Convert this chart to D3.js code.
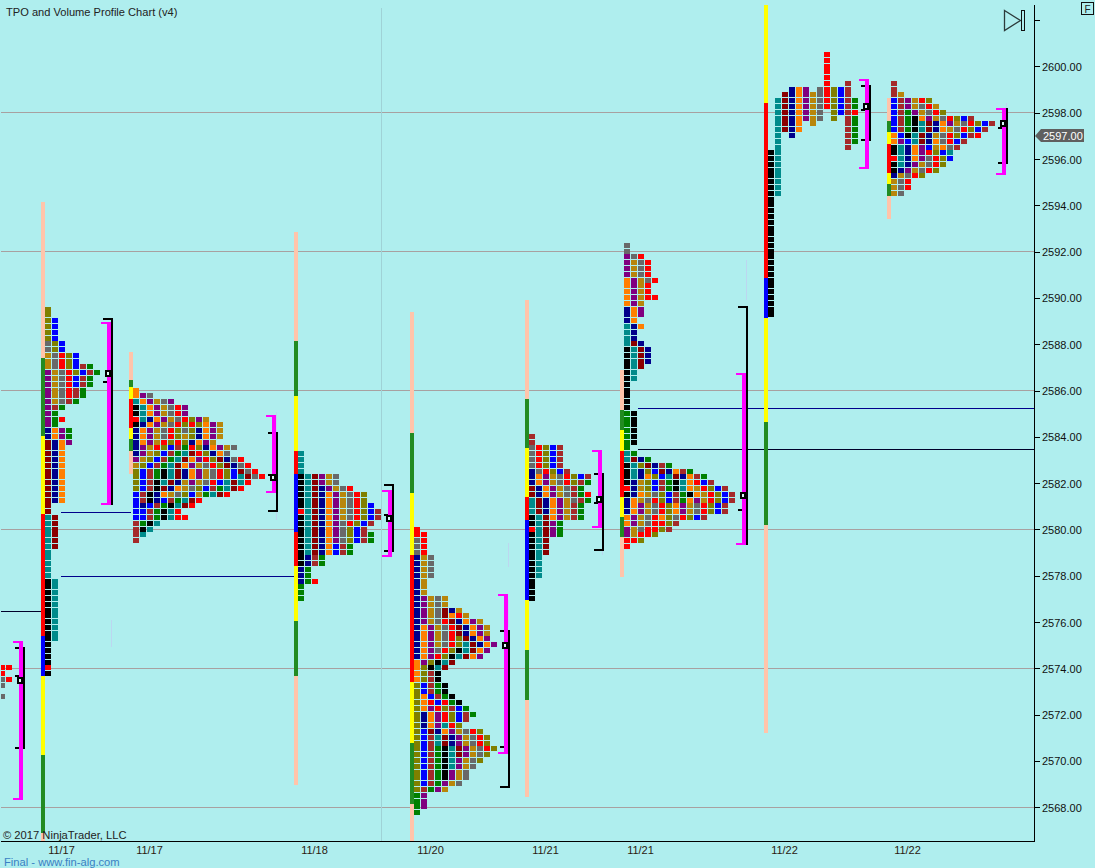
<!DOCTYPE html>
<html><head><meta charset="utf-8">
<script src="https://cdn.jsdelivr.net/npm/d3@7"></script>
<style>html,body{margin:0;padding:0;background:#afeeee;overflow:hidden}svg{display:block}text{font-family:"Liberation Sans",Arial,sans-serif}</style>
</head><body><div id="c"></div>
<script>
const priceTicks=[2568,2570,2572,2574,2576,2578,2580,2582,2584,2586,2588,2590,2592,2594,2596,2598,2600,2602];
const gridPrices=[2598,2592,2586,2580,2574,2568];
const dateLabels=["11/17","11/17","11/18","11/20","11/21","11/21","11/22","11/22"];
const lastPrice=2597;

const tpo0=["RR","R.","GR","G.","..","G."];
const tpo1=["O","O","OB","OB","OB","OB","GOB","GOB","DGROB","DGROB","DGROBWE","PDGROBWE","PDGRBWE","PDGRBWE","PDGRWE","PDGRWE","PDGWE","PWE","PE","PER","PE","NAPE","NAPE","MNAP","MNA","MNA","MNA","MNA","MNA","MNA","MNA","MNA","MNA","MNA","M","M","TM","TM","TM","TM","TM","TM","T","T","T","T","T","KT","KT","KT","KT","KT","KT","KT","KT","KT","KT","KT","K","K","K","K","R","K"];
const tpo2=["A","APG","TAPDGP","KTAPDGRP","KTAPDGRP","RTNAPDGROPD","KNAPDGROROAPD","NAPDGROGONAPD","NAPDGRODONAPD","NAPDRORONAPD","NPDROBWERONAPDG","NPDOBWETMRONAG","PDOBWETMAPROMNGR","DOBWETMAPDGROMNGR","OBWEKTMNAPDGROBMGR","OBWEKTMNAPDGROBTMGR","OBWKTMNDPDGRBTMTR","OBWKMNADGOBWETMR","BWKNADGOBDETMR","BWKNBWETMR","BNBWEKTMR","BBWEKTR","BBWEKTRR","WEKT","WKT","WT","W"];
const tpo3=["T","T","T","T","KTMPDG","KTMPDG","KTMNPDGR","KTMNAPDGRO","KTMNAPDGRO","KTMNAPDGROB","RTMNAPDGROBW","KTMNAPDGROBW","KTMNAPGROBW","KTMNAPGOBW","KTMNAPGOBWE","KTMNAPGOBWE","KTMNABWE","KTMNABWE","KNWE","KNWE","NE","NE","NER","E","E","E"];
const tpo4=["R","RR","GR","GR","GR","NDG","NDG","NDG","NDG","ND","ND","ND","NPDGD","NPDGD","NPDGMND","NPDGMARD","NPDGRMNAPD","NAPDGRMNAPD","NAPDGRMNAPD","NAPDGROMNAP","NAPDGROTMNAP","NAPGROKTMAP","NAPROKTMAP","APOKTM","AOKTM","AOWK","AOWK","OBWEK","OBWEK","OABWEK","OARBREK","OAPROWBE","ONAPROBWE","ONAPROBW","ONAPTRO","OBMNAPDGRO","OBWTMNPDGRO","OBWTMNPDGRO","OBWEKTMPDGRO","OBWEKTMPDGO","OBWEKTPDGO","OBWEKTPDG","OBWEKPDG","OBWEKPDG","OBWEPDG","OWEPD","EP","EP","EP","E"];
const tpo5=["W","W","GROBW","GROBW","GROBW","GROBW","NGROBW","NAPDGROBW","NAPDGROWE","MNAPDGWE","MNAPDGWER","TMNAPDGWE","TMNAPDWE","TMNAPDWE","KTMAPDWE","KTMPE","RTMPE","KTMPE","KTM","KTM","KTM","KT","KT","KT","KT","K","K","K","K"];
const tpo6=["G","G","PGR","PDGR","PDGR","PDGR","APDGR","APDR","APDR","APDRR","APD","NAP","NAP","NA","TNA","TN","TN","TMN","KTMN","KTMN","KTMN","KTM","KT","KT","K","K","K","K","K","EK","EK","EK","EK","EK","EK","E","TE","TMNE","KTOMNWE","KTNOBMNAWE","KTNAOBTMNAWE","KNDOBWEKTARBW","RNDOBWEKTADROBW","KNADGOBWEKADROBW","NADGROBWEAPDROBW","NAPDGROAPDGROBW","NAPDGROAPDGROBW","APDGRAOGROBW","APDGRROW","PDGRROW","PDRRO","RRO","R"];
const tpo7=["........R","........R","........R","........R","........R","........R..W","...NAP.GROBW","..MNAPDGROBW",".TMNAPDGROBWE",".TMNAPDGROBWE",".TMNAPDG.OBWR",".TMNAPDG.O.WE",".TMNA.D....WE",".TMNA......WE",".T.N.......WE",".T.........WE",".T.........W","KT","KT","KT","KT","KT","KT","KT","KT","K","K","K","K","K","K","K","K","K","K","K","K","K","K","K","K","K","K","K","K","K"];
const tpo8=["W","W","WD","BWPDRO","BWPDGRD","BWEPDGRO","BWEKAPDGROBW","BWEKTMNAPDGROBW","BWEKTMNADGROBW","ABKTMNDGROBWR","APBTMNAGRBW","KTNAPBDAGW","KTNAPROBT","RTNAPGROB","KTNPDGRO","KNPDGRO","NDGRO","DGR","DGR","DG"];

const profileTops=[2574,2589.5,2586,2583.25,2580,2584,2592.25,2600.5,2599.25];
const profileSlots=[0,6.571,19.143,42.714,59.286,75.714,89.286,109.857,127.429];
const profileRows=[tpo0,tpo1,tpo2,tpo3,tpo4,tpo5,tpo6,tpo7,tpo8];

const edges1=[2594.14,2587.40,2584.03,2580.67,2575.40,2573.67,2570.26,2566.9,2566.3];
const edges2=[2587.66,2586.45,2586.15,2585.63,2584.38,2583.90,2583.39,2582.39];
const edges3=[2592.85,2588.14,2585.76,2583.39,2582.39,2579.89,2578.42,2576.04,2573.67,2568.96];
const edges4=[2589.39,2584.16,2581.57,2578.89,2573.41,2570.77,2568.14,2566.3];
const edges5=[2589.91,2585.63,2583.52,2581.40,2580.41,2576.95,2574.79,2572.63,2568.44];
const edges6=[2586.89,2585.16,2584.29,2583.39,2581.40,2580.54,2579.67,2577.94];
const edges7=[2602.65,2598.42,2590.86,2589.13,2584.64,2580.19,2571.21];
const edges8=[2598.63,2597.64,2597.17,2596.65,2595.40,2594.92,2594.40,2593.41];
const phases1="cgyrbygc",phases2="cgyrygc",phases3="cgyrbrygc",phases4="cgyrygc",phases5="cgyrbygc",phases6="cgyrygc",phases7="yrbygc",phases8="cgyrygc";
const barSlots=profileSlots.slice(1);
const barEdges=[edges1,edges2,edges3,edges4,edges5,edges6,edges7,edges8];
const barPhases=[phases1,phases2,phases3,phases4,phases5,phases6,phases7,phases8];

const bracketSlots=[3.43,16,39.57,56.14,72.71,86.14,106.71,124.29,143.86];
const vahMag=[2575.14,2588.92,2584.90,2581.66,2577.17,2583.39,2586.71,2599.41,2598.16];
const valMag=[2568.40,2581.14,2581.66,2578.89,2570.38,2580.15,2579.41,2595.65,2595.40];
const vahBlk=[2574.92,2589.13,2584.21,2581.96,2575.65,2582.44,2589.65,2599.2,2598.2];
const valBlk=[2570.60,2581.10,2580.84,2579.11,2568.92,2579.15,2579.37,2596.86,2595.87];
const pocs=[2573.5,2586.75,2582.25,2580.5,2575,2581.3,2581.5,2598.3,2597.54];
const extraTicks=[[2574.92,2570.6,2573.71],[2589.13,2586.41],[2584.21,2580.84,2582.39],[2581.96,2579.11,2580.67],[2575.65,2570.64,2568.92],[2582.44,2579.15,2581.18],[2589.65,2580.88],[2599.2,2598.16,2596.86],[2597.38,2595.87]];

const levelPrices=[2580.74,2577.97,2576.46,2585.23,2583.46];
const levelFrom=[8.857,8.857,0.29,91.29,91.29];
const levelTo=[18.857,42.57,6.43,147.86,147.86];
const levelDark=[0,0,1,0,1];

const faintSlots=[39.57,16,72.71,72.71,86.14,106.71,143.86];
const faintHi=[2585.07,2576.09,2579.41,2576.95,2579.15,2591.64,2598.42];
const faintLo=[2580.41,2574.92,2578.38,2575.78,2578.89,2589.91,2595.65];
const sessionBreakSlot=54.57;

const tpoColor={O:"#808000",B:"#0000ff",G:"#696969",D:"#b8860b",R:"#ff0000",N:"#00008b",P:"#800080",W:"#a52a2a",E:"#008000",K:"#000000",T:"#008b8b",M:"#8b0000",A:"#ff7f00"};
const phaseColor={c:"#ffc4aa",g:"#228b22",y:"#ffff00",r:"#ff0000",b:"#0000ff"};

const W=1095,H=868,plotR=1034,plotB=841;
const y=d3.scaleLinear().domain([2598,2568]).range([112.7,807.2]);
const x=d3.scaleLinear().domain([0,1]).rangeRound([-1,6]);
const svg=d3.select("#c").append("svg").attr("width",W).attr("height",H).attr("shape-rendering","crispEdges");
svg.append("rect").attr("width",W).attr("height",H).attr("fill","#afeeee");
svg.append("clipPath").attr("id","pc").append("rect").attr("x",1).attr("y",0).attr("width",plotR-1).attr("height",plotB);
const g=svg.append("g").attr("clip-path","url(#pc)");

g.selectAll(null).data(gridPrices).join("line").attr("x1",1).attr("x2",plotR)
 .attr("y1",d=>Math.floor(y(d))+.5).attr("y2",d=>Math.floor(y(d))+.5).attr("stroke","#a8a0a0");
g.append("line").attr("x1",x(sessionBreakSlot)+.5).attr("x2",x(sessionBreakSlot)+.5).attr("y1",8).attr("y2",plotB).attr("stroke","#9fd2d6");

g.selectAll(null).data(faintSlots).join("rect").attr("x",d=>x(d)).attr("width",1)
 .attr("y",(d,i)=>y(faintHi[i])).attr("height",(d,i)=>y(faintLo[i])-y(faintHi[i])).attr("fill","#bcd6f0");

// level lines
levelPrices.forEach((p,i)=>g.append("line").attr("x1",x(levelFrom[i])).attr("x2",x(levelTo[i]))
 .attr("y1",Math.round(y(p))+.5).attr("y2",Math.round(y(p))+.5).attr("stroke",levelDark[i]?"#00002a":"#00008b"));

// TPO letters
profileRows.forEach((rows,pi)=>{
  const top=profileTops[pi],slot=profileSlots[pi];
  rows.forEach((row,ri)=>{
    const p=top-ri*0.25,y0=Math.round(y(p+0.125));
    row.split("").forEach((ch,ci)=>{
      if(!tpoColor[ch])return;
      g.append("rect").attr("x",x(slot+ci)).attr("y",y0).attr("width",6).attr("height",5).attr("fill",tpoColor[ch]);
    });
  });
});

// range bars
barEdges.forEach((edges,bi)=>{
  const px=x(barSlots[bi])-4;
  for(let i=0;i<edges.length-1;i++){
    const a=Math.round(y(edges[i])),b=Math.round(y(edges[i+1]));
    g.append("rect").attr("x",px).attr("y",a).attr("width",4).attr("height",b-a).attr("fill",phaseColor[barPhases[bi][i]]);
  }
});

// brackets
bracketSlots.forEach((s,i)=>{
  const X=x(s);
  const by0=Math.round(y(vahBlk[i])),by1=Math.round(y(valBlk[i]));
  g.append("rect").attr("x",X).attr("y",by0).attr("width",2).attr("height",by1-by0+1).attr("fill","#000");
  extraTicks[i].forEach(t=>g.append("rect").attr("x",X-8).attr("y",Math.round(y(t))).attr("width",10).attr("height",2).attr("fill","#000"));
  const my0=Math.round(y(vahMag[i])),my1=Math.round(y(valMag[i]));
  g.append("rect").attr("x",X-4).attr("y",my0).attr("width",4).attr("height",my1-my0+1).attr("fill","#ff00ff");
  g.append("rect").attr("x",X-10).attr("y",my0-1).attr("width",10).attr("height",2).attr("fill","#ff00ff");
  g.append("rect").attr("x",X-10).attr("y",my1).attr("width",10).attr("height",2).attr("fill","#ff00ff");
  const py=Math.round(y(pocs[i]));
  g.append("rect").attr("x",X-6).attr("y",py-3).attr("width",7).attr("height",7).attr("fill","#000");
  g.append("rect").attr("x",X-4).attr("y",py-1).attr("width",2).attr("height",3).attr("fill","#dcfafa");
});

// axes
const ax=svg.append("g").attr("transform",`translate(${plotR},0)`)
 .call(d3.axisRight(y).tickValues(priceTicks).tickSize(6).tickPadding(2).tickFormat(d=>d===2602?"":d.toFixed(2)));
ax.select(".domain").remove();
ax.selectAll("text").attr("font-size",11).attr("dy","0.37em").attr("font-family",'"Liberation Sans",Arial,sans-serif').attr("fill","#111");
ax.selectAll("line").attr("stroke","#000");
svg.append("line").attr("x1",plotR+.5).attr("x2",plotR+.5).attr("y1",5).attr("y2",plotB+1).attr("stroke","#000");
svg.append("line").attr("x1",1).attr("x2",plotR).attr("y1",plotB+.5).attr("y2",plotB+.5).attr("stroke","#000");

const bx=svg.append("g").attr("transform",`translate(0,${plotB+5})`)
 .call(d3.axisBottom(x).tickValues(barSlots.map(s=>s+2.25)).tickSize(0).tickPadding(0).tickFormat((d,i)=>dateLabels[i]));
bx.select(".domain").remove();
bx.selectAll("text").attr("font-size",11).attr("font-family",'"Liberation Sans",Arial,sans-serif').attr("fill","#2a1a10");

// last price flag
const ly=Math.round(y(lastPrice));
svg.append("path").attr("d",`M${plotR+1},${ly}L${plotR+7},${ly-7}H1084V${ly+6}H${plotR+7}Z`).attr("fill","#5f5f5f").attr("shape-rendering","auto");
svg.append("text").attr("x",1043).attr("y",ly+4).attr("font-size",11).attr("fill","#fff").text(lastPrice.toFixed(2));

// texts
svg.append("text").attr("x",6).attr("y",16).attr("font-size",11.1).attr("fill","#222").text("TPO and Volume Profile Chart (v4)");
svg.append("text").attr("x",3).attr("y",839).attr("font-size",11.2).attr("fill","#222").text("© 2017 NinjaTrader, LLC");
svg.append("text").attr("x",4).attr("y",866).attr("font-size",11.2).attr("fill","#3a80c4").text("Final - www.fin-alg.com");

// icons
svg.append("path").attr("d","M1004.5,10.5L1020.5,20.5L1004.5,30.5Z").attr("fill","none").attr("stroke","#2c3a3a").attr("stroke-width",1.3).attr("shape-rendering","auto");
svg.append("rect").attr("x",1021.5).attr("y",10.5).attr("width",3).attr("height",20).attr("fill","none").attr("stroke","#111");
svg.append("rect").attr("x",1081.5).attr("y",2.5).attr("width",12).attr("height",12).attr("fill","none").attr("stroke","#111");
svg.append("text").attr("x",1087.5).attr("y",12.5).attr("font-size",10).attr("text-anchor","middle").attr("fill","#222").text("F");
</script></body></html>
